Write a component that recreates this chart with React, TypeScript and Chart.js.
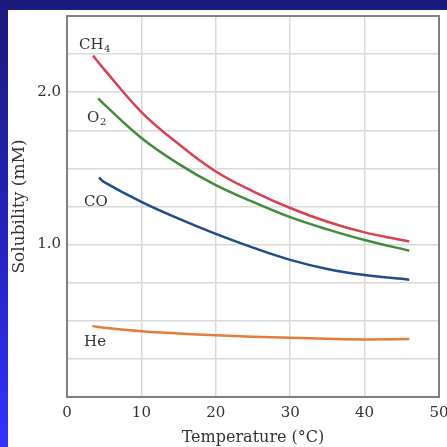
import React, { useEffect, useRef } from "react";
import { Chart, registerables } from "chart.js";

Chart.register(...registerables);

const xTicks = [0, 10, 20, 30, 40, 50];
const yLabelled = [1.0, 2.0];

const ch4Temp = [3.5, 5, 10, 15, 20, 25, 30, 35, 40, 46];
const ch4Sol = [2.24, 2.15, 1.87, 1.66, 1.48, 1.35, 1.24, 1.15, 1.08, 1.02];
const o2Temp = [4.2, 5, 10, 15, 20, 25, 30, 35, 40, 46];
const o2Sol = [1.96, 1.92, 1.7, 1.53, 1.39, 1.28, 1.18, 1.1, 1.03, 0.96];
const coTemp = [4.3, 5, 10, 15, 20, 25, 30, 35, 40, 46];
const coSol = [1.44, 1.41, 1.28, 1.17, 1.07, 0.98, 0.9, 0.84, 0.8, 0.77];
const heTemp = [3.4, 5, 10, 15, 20, 25, 30, 35, 40, 46];
const heSol = [0.465, 0.455, 0.432, 0.417, 0.405, 0.396, 0.388, 0.382, 0.378, 0.38];

const gasNames = ["CH", "O", "CO", "He"];
const gasSubs = ["4", "2", "", ""];
// label anchor in data coordinates (temperature, solubility)
const labelT = [1.6, 2.7, 2.3, 2.3];
const labelS = [2.31, 1.83, 1.28, 0.36];

const pts = (xs: number[], ys: number[]) => xs.map((x, i) => ({ x, y: ys[i] }));

const SERIF = "'DejaVu Serif', serif";

export default function App() {
  const ref = useRef<HTMLCanvasElement | null>(null);
  useEffect(() => {
    if (!ref.current) return;
    const frame = {
      id: "frame",
      beforeDatasetsDraw(chart: any) {
        const { ctx, chartArea: a } = chart;
        ctx.save();
        ctx.strokeStyle = "#808080";
        ctx.lineWidth = 2;
        ctx.strokeRect(a.left, a.top, a.right - a.left, a.bottom - a.top);
        ctx.restore();
      },
    };
    const labels = {
      id: "gasLabels",
      afterDatasetsDraw(chart: any) {
        const { ctx } = chart;
        const xs = chart.scales.x;
        const ys = chart.scales.y;
        ctx.save();
        ctx.fillStyle = "#333";
        ctx.textBaseline = "middle";
        ctx.textAlign = "left";
        gasNames.forEach((n, i) => {
          const px = xs.getPixelForValue(labelT[i]);
          const py = ys.getPixelForValue(labelS[i]);
          ctx.font = `15px ${SERIF}`;
          ctx.fillText(n, px, py);
          if (gasSubs[i]) {
            const w = ctx.measureText(n).width;
            ctx.font = `10px ${SERIF}`;
            ctx.fillText(gasSubs[i], px + w + 0.5, py + 4);
          }
        });
        ctx.restore();
      },
    };
    const mk = (label: string, d: any[], color: string) => ({
      label,
      data: d,
      borderColor: color,
      backgroundColor: color,
      borderWidth: 2.5,
      pointRadius: 0,
      tension: 0.4,
      fill: false,
    });
    const chart = new Chart(ref.current, {
      type: "line",
      data: {
        datasets: [
          mk("CH4", pts(ch4Temp, ch4Sol), "#d8414f"),
          mk("O2", pts(o2Temp, o2Sol), "#438a3c"),
          mk("CO", pts(coTemp, coSol), "#1f4c8a"),
          mk("He", pts(heTemp, heSol), "#e57d38"),
        ],
      },
      options: {
        animation: false,
        responsive: false,
        layout: { padding: { top: 6, right: 8, left: 0, bottom: 0 } },
        plugins: { legend: { display: false }, tooltip: { enabled: false } },
        scales: {
          x: {
            type: "linear",
            min: 0,
            max: 50,
            afterFit(s: any) {
              s.height = 50;
              s.paddingLeft = 0;
              s.paddingRight = 0;
            },
            afterBuildTicks(s: any) {
              s.ticks = xTicks.map((v) => ({ value: v }));
            },
            grid: { color: "#d9d9d9", lineWidth: 1.5, drawTicks: false },
            border: { display: false },
            ticks: {
              padding: 7,
              color: "#333",
              font: { family: SERIF, size: 15 },
              maxRotation: 0,
            },
            title: {
              display: true,
              text: "Temperature (°C)",
              color: "#333",
              font: { family: SERIF, size: 16 },
              padding: { top: 0, bottom: 0 },
            },
          },
          y: {
            type: "linear",
            min: 0,
            max: 2.5,
            afterFit(s: any) {
              s.width = 59;
              s.paddingTop = 0;
              s.paddingBottom = 0;
            },
            grid: { color: "#d9d9d9", lineWidth: 1.5, drawTicks: false },
            border: { display: false },
            ticks: {
              stepSize: 0.25,
              padding: 6,
              color: "#333",
              font: { family: SERIF, size: 15 },
              callback: (v: any) =>
                yLabelled.includes(Number(v)) ? Number(v).toFixed(1) : "",
            },
            title: {
              display: true,
              text: "Solubility (mM)",
              color: "#333",
              font: { family: SERIF, size: 17 },
              padding: { top: 1, bottom: 0 },
            },
          },
        },
      },
      plugins: [frame, labels],
    });
    return () => chart.destroy();
  }, []);
  return (
    <div
      style={{
        position: "fixed",
        left: 0,
        top: 0,
        width: 447,
        height: 447,
        background: "linear-gradient(to bottom, #1a1a7c 0%, #2424c8 60%, #3232ff 100%)",
      }}
    >
      <div
        style={{
          position: "absolute",
          left: 8,
          top: 10,
          width: 439,
          height: 437,
          background: "#fff",
        }}
      >
        <canvas ref={ref} width={439} height={437} style={{ display: "block" }} />
      </div>
    </div>
  );
}
